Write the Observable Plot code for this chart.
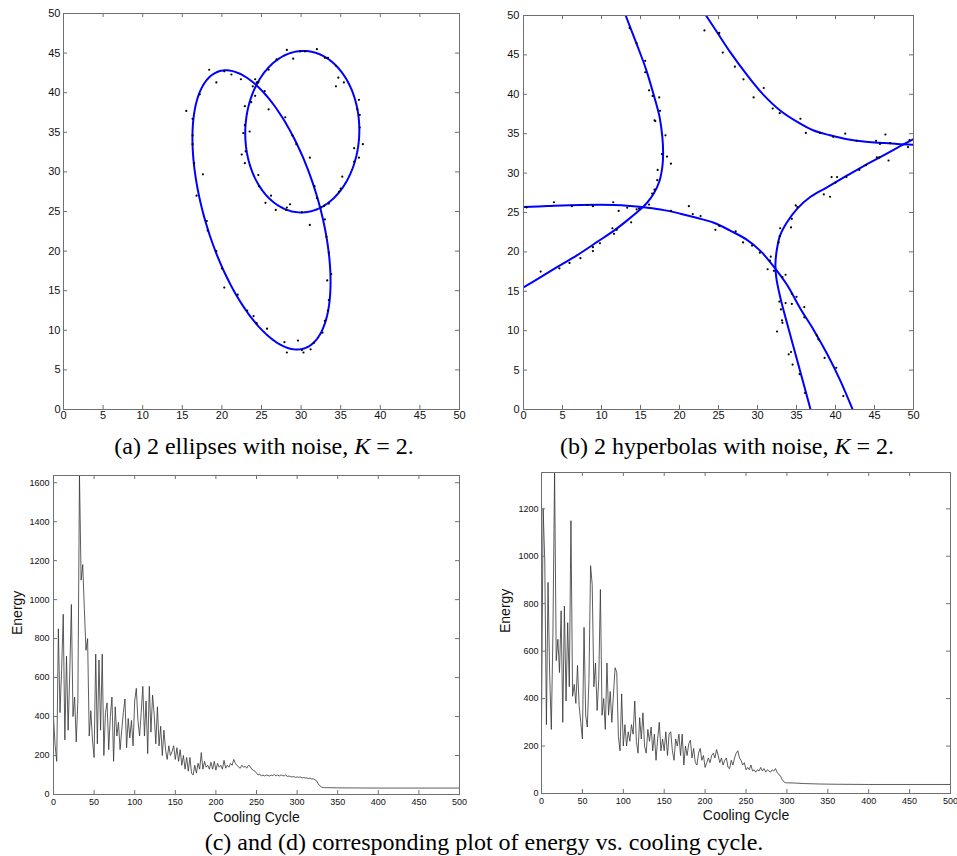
<!DOCTYPE html>
<html><head><meta charset="utf-8">
<script src="https://cdn.jsdelivr.net/npm/d3@7"></script>
<script src="https://cdn.jsdelivr.net/npm/@observablehq/plot@0.6"></script>
<style>
body{margin:0;background:#fff;}
#root{position:relative;width:957px;height:856px;overflow:hidden;background:#fff;}
.cap{position:absolute;font-family:"Liberation Serif","Times New Roman",serif;font-size:24px;line-height:24px;color:#000;white-space:nowrap;transform:translateX(-50%);}
</style></head><body><div id="root"></div>
<script>
// ---------- data ----------
const gridTicks = [0,5,10,15,20,25,30,35,40,45,50];
const cycleTicks = [0,50,100,150,200,250,300,350,400,450,500];
const energyTicksC = [0,200,400,600,800,1000,1200,1400,1600];
const energyTicksD = [0,200,400,600,800,1000,1200];

// (a) fitted ellipses: centre x, centre y, semi-major, semi-minor, angle (deg)
const ellipseCx = [25.0, 30.15];
const ellipseCy = [25.2, 35.08];
const ellipseA = [18.3, 10.2];
const ellipseB = [7.2, 7.2];
const ellipseAngle = [107, 88.4];

// (a) noisy sample points
const ellipseNoise = [[15.5,37.7],[16.3,36.7],[16.3,34.6],[16.3,33.5],[16.5,31.1],[17.6,29.7],[16.8,27.0],[18.1,23.8],[18.2,22.6],[19.3,20.0],[20.0,17.8],[20.3,15.4],[22.0,14.5],[23.2,12.5],[24.0,11.8],[24.4,10.9],[25.7,10.2],[27.9,8.5],[28.2,7.2],[29.6,8.7],[30.1,7.5],[30.3,7.2],[31.2,7.6],[31.6,8.4],[32.7,9.7],[33.0,11.2],[33.4,12.5],[33.5,13.8],[33.3,16.3],[33.8,17.1],[33.5,19.8],[33.2,21.8],[33.0,24.0],[32.5,25.5],[33.5,26.0],[31.1,23.3],[32.0,26.7],[31.7,28.2],[31.1,31.8],[29.4,33.5],[28.9,34.6],[28.0,36.9],[25.9,37.9],[25.4,40.2],[24.4,41.3],[24.2,41.7],[23.9,40.8],[24.2,39.6],[22.4,41.7],[21.2,42.3],[20.3,42.7],[18.4,42.9],[19.3,41.3],[17.2,39.8],[22.9,38.3],[23.7,38.8],[22.7,34.9],[23.5,35.1],[22.9,35.9],[23.0,32.6],[22.5,32.2],[22.9,31.1],[24.6,29.6],[24.7,28.2],[26.2,27.0],[25.5,26.1],[26.8,25.2],[28.2,25.5],[28.6,25.9],[28.1,25.2],[30.1,24.9],[32.9,25.7],[34.8,27.5],[35.0,27.9],[35.2,29.4],[36.7,31.3],[37.3,31.8],[36.7,33.0],[37.8,33.5],[37.4,35.6],[37.4,37.2],[37.1,37.9],[37.3,39.1],[35.4,41.3],[34.4,40.8],[34.7,41.9],[34.4,43.4],[33.4,44.4],[33.0,44.4],[32.0,45.5],[30.5,45.2],[29.9,45.2],[29.0,44.3],[28.2,45.4],[26.9,44.2],[25.9,42.9],[24.6,41.3]];

// (b) fitted hyperbola branches
const branch1 = [[13.1,50],[14.5,46.4],[15.7,43.2],[16.7,39.9],[17.45,37.1],[17.8,34.6],[17.9,32.5],[17.8,30.8],[17.4,28.9],[16.7,27.4],[15.9,26.3],[15.0,25.4],[13.3,24.0],[11.6,22.7],[9.5,21.3],[6.9,19.6],[4.35,18.1],[2.2,16.8],[0,15.5]];
const branch2 = [[0,25.7],[3.1,25.82],[7.3,25.95],[11.6,25.95],[13.7,25.82],[15.9,25.6],[18.0,25.3],[20.1,24.85],[22.3,24.3],[24.4,23.7],[26.5,22.7],[28.7,21.5],[30.4,20.1],[32.1,18.1],[33.8,15.8],[35.5,12.8],[37.2,10.1],[38.9,7.1],[40.6,3.7],[42.2,0]];
const branch3 = [[23.4,50],[24.8,47.9],[26.5,45.35],[28.7,42.4],[30.8,39.9],[32.9,37.95],[35.1,36.5],[37.2,35.4],[39.3,34.8],[41.5,34.3],[43.6,34.0],[45.7,33.85],[47.9,33.7],[50,33.6]];
const branch4 = [[36.8,0],[35.9,3.3],[34.85,7.1],[33.8,10.9],[32.9,14.3],[32.4,16.8],[32.3,18.5],[32.5,20.4],[32.9,22.1],[33.8,23.8],[35.1,25.5],[36.8,27.0],[38.9,28.2],[41.5,29.7],[43.6,30.9],[45.7,32.0],[47.9,33.2],[50,34.3]];

// (b) noisy sample points
const hyperNoise = [[13.6,48.4],[14.5,46.5],[15.6,44.25],[15.6,42.8],[16.1,40.5],[16.55,39.8],[17.4,39.6],[17.5,37.9],[16.8,36.7],[16.9,36.6],[18.2,34.8],[17.75,32.4],[18.4,32.1],[18.9,31.2],[17.2,30.4],[17.15,29.1],[16.8,27.9],[16.5,27.4],[16.1,26.0],[14.8,25.5],[14.5,25.4],[13.3,25.6],[13.8,23.75],[12.2,25.2],[11.5,26.3],[11.4,23.0],[11.95,22.8],[11.6,22.3],[9.8,21.1],[8.9,20.6],[8.9,20.1],[7.3,19.2],[5.9,18.6],[4.6,17.9],[2.2,17.5],[3.9,26.3],[6.2,25.8],[8.2,25.95],[8.9,25.8],[0.4,25.65],[18.9,25.2],[21.2,25.8],[21.7,24.8],[22.7,24.55],[24.6,22.8],[25.1,23.3],[27.2,22.6],[28.15,21.2],[29.3,20.8],[30.3,19.9],[31.3,17.8],[31.7,19.4],[31.6,18.9],[32.1,17.6],[32.7,21.2],[32.85,22.0],[32.9,23.0],[34.3,23.1],[34.4,24.2],[34.9,25.9],[35.1,25.7],[33.2,16.8],[33.6,17.1],[32.8,13.7],[33.0,12.7],[33.15,11.3],[33.2,11.0],[33.6,13.5],[34.4,13.4],[34.4,14.7],[35.0,14.3],[36.0,13.0],[36.0,11.7],[32.5,9.9],[34.0,7.0],[34.3,7.3],[34.5,5.7],[35.4,4.5],[36.1,2.1],[37.6,9.4],[37.8,8.9],[38.6,6.55],[40.1,5.3],[41.0,1.7],[38.5,27.3],[39.3,27.0],[39.5,29.5],[40.2,29.5],[40.0,28.8],[41.4,29.5],[43.05,30.4],[43.9,31.0],[45.3,32.0],[45.6,32.0],[46.8,31.6],[45.7,33.7],[45.2,34.1],[47.0,33.8],[46.4,34.9],[49.3,33.3],[49.5,34.2],[42.7,34.1],[41.25,35.0],[39.7,34.6],[38.0,35.1],[36.2,35.1],[35.5,36.9],[32.85,37.6],[31.95,38.2],[30.8,40.8],[29.5,39.6],[28.2,41.9],[27.1,43.5],[25.55,45.3],[25.0,47.7],[25.1,47.8],[23.2,48.1]];

// (c) energy, one value every 2 cooling cycles from 0 to 340, then the flat tail
const energyStep = 2;
const energyC = [
 400,250,170,850,420,640,925,280,710,330,
 620,975,400,500,270,480,1640,1100,1180,950,
 740,800,300,430,280,190,720,260,690,330,
 720,200,420,470,230,400,500,170,450,300,
 370,230,330,420,490,240,390,290,380,250,
 480,545,380,300,420,555,300,480,210,555,
 320,510,410,260,450,250,350,200,330,230,
 180,250,200,220,250,180,240,170,230,150,
 200,130,190,120,190,110,100,150,110,160,
 130,215,130,170,140,150,130,165,130,170,
 125,160,140,150,130,175,135,150,140,160,
 150,180,160,150,140,135,150,140,145,135,
 150,145,130,125,120,110,100,105,95,100,
 95,100,98,95,100,97,103,95,100,95,
 100,98,95,100,92,95,92,90,92,88,
 90,88,90,85,87,85,85,82,84,80,
 80,75,70,55,45,38,36,35,35,35,
 35];
const energyCTailCycle = [350,400,450,500];
const energyCTail = [34,33,33,33];

// (d) energy, one value every 2 cooling cycles from 0 to 300, then the flat tail
const energyD = [
 280,1200,980,290,890,500,270,680,1360,560,
 650,510,770,300,790,390,720,450,1150,410,
 460,380,540,370,300,230,700,330,280,480,
 960,880,450,550,350,480,860,330,400,270,
 550,330,430,300,420,530,510,240,180,420,
 200,290,200,260,220,290,250,390,220,170,
 320,230,340,200,170,270,220,280,180,250,
 140,230,300,180,230,180,260,160,250,260,
 180,140,230,200,250,160,250,120,200,160,
 210,225,150,190,130,120,170,190,140,160,
 110,130,150,130,160,170,150,185,160,130,
 150,120,140,150,110,105,140,120,150,170,
 180,150,140,120,130,100,110,100,120,95,
 100,90,100,95,110,95,105,90,100,95,
 90,100,95,105,90,80,75,60,50,46,
 45];
const energyDTailCycle = [310,320,340,360,400,500];
const energyDTail = [44,42,40,39,38,38];

// ---------- drawing ----------
const root = document.getElementById("root");
const sans = "'Liberation Sans', Arial, sans-serif";
const gray = "#707070";

function ellipseCurve(i) {
  const th = ellipseAngle[i] * Math.PI / 180;
  return d3.range(0, 362, 2).map(deg => {
    const t = deg * Math.PI / 180;
    const u = ellipseA[i] * Math.cos(t), v = ellipseB[i] * Math.sin(t);
    return [ellipseCx[i] + u * Math.cos(th) - v * Math.sin(th),
            ellipseCy[i] + u * Math.sin(th) + v * Math.cos(th)];
  });
}

function energySeries(vals, tailX, tailY) {
  return vals.map((v, i) => [i * energyStep, v]).concat(tailX.map((x, i) => [x, tailY[i]]));
}

function panel(o) {
  const fw = o.width - o.ml - o.mr, fh = o.height - o.mt - o.mb, tl = 4;
  const svg = Plot.plot({
    width: o.width, height: o.height,
    marginLeft: o.ml, marginRight: o.mr, marginTop: o.mt, marginBottom: o.mb,
    x: {domain: o.xDomain}, y: {domain: o.yDomain},
    style: {fontFamily: sans, fontSize: o.fontSize + "px", color: "#111", background: "transparent", overflow: "visible"},
    marks: [
      ...o.marks,
      Plot.ruleX(o.xTicks, {stroke: gray, insetTop: fh - tl}),
      Plot.ruleX(o.xTicks, {stroke: gray, insetBottom: fh - tl}),
      Plot.ruleY(o.yTicks, {stroke: gray, insetRight: fw - tl}),
      Plot.ruleY(o.yTicks, {stroke: gray, insetLeft: fw - tl}),
      Plot.frame({stroke: gray}),
      Plot.axisX(o.xTicks, {tickSize: 0, tickPadding: o.padX, label: null, tickFormat: d => String(d), fontSize: o.fontSize}),
      Plot.axisY(o.yTicks, {tickSize: 0, tickPadding: o.padY, label: null, tickFormat: d => String(d), fontSize: o.fontSize}),
      ...(o.extra || [])
    ]
  });
  svg.style.position = "absolute";
  svg.style.left = o.left + "px";
  svg.style.top = o.top + "px";
  root.appendChild(svg);
}

const blue = "#0000ff";
const xy = {x: d => d[0], y: d => d[1]};

// (a)
panel({
  left: 0, top: 0, width: 480, height: 440, ml: 63, mr: 21, mt: 13, mb: 31,
  xDomain: [0, 50], yDomain: [0, 50], xTicks: gridTicks, yTicks: gridTicks,
  fontSize: 11, padX: 2, padY: 3,
  marks: [
    Plot.line(ellipseCurve(0), {...xy, stroke: blue, strokeWidth: 2, clip: true}),
    Plot.line(ellipseCurve(1), {...xy, stroke: blue, strokeWidth: 2, clip: true}),
    Plot.dot(ellipseNoise, {...xy, r: 1.1, fill: "#000", stroke: "none"})
  ]
});

// (b)
panel({
  left: 480, top: 0, width: 477, height: 440, ml: 43, mr: 44, mt: 15, mb: 31,
  xDomain: [0, 50], yDomain: [0, 50], xTicks: gridTicks, yTicks: gridTicks,
  fontSize: 11, padX: 2, padY: 4,
  marks: [
    ...[branch1, branch2, branch3, branch4].map(b =>
      Plot.line(b, {...xy, stroke: blue, strokeWidth: 2, curve: "catmull-rom", clip: true})),
    Plot.dot(hyperNoise, {...xy, r: 1.1, fill: "#000", stroke: "none"})
  ]
});

// (c)
panel({
  left: 0, top: 460, width: 480, height: 370, ml: 53, mr: 21, mt: 15, mb: 36,
  xDomain: [0, 500], yDomain: [0, 1637], xTicks: cycleTicks, yTicks: energyTicksC,
  fontSize: 9, padX: 4, padY: 4,
  marks: [
    Plot.line(energySeries(energyC, energyCTailCycle, energyCTail), {...xy, stroke: "#333", strokeWidth: 0.8, clip: true})
  ],
  extra: [
    Plot.text(["Cooling Cycle"], {text: d => d, frameAnchor: "bottom", lineAnchor: "top", dy: 18, fontSize: 14}),
    Plot.text(["Energy"], {text: d => d, frameAnchor: "left", rotate: -90, dx: -36, fontSize: 14})
  ]
});

// (d)
panel({
  left: 480, top: 460, width: 477, height: 370, ml: 61, mr: 7, mt: 12, mb: 37,
  xDomain: [0, 500], yDomain: [0, 1353], xTicks: cycleTicks, yTicks: energyTicksD,
  fontSize: 9, padX: 4, padY: 3,
  marks: [
    Plot.line(energySeries(energyD, energyDTailCycle, energyDTail), {...xy, stroke: "#333", strokeWidth: 0.8, clip: true})
  ],
  extra: [
    Plot.text(["Cooling Cycle"], {text: d => d, frameAnchor: "bottom", lineAnchor: "top", dy: 17, fontSize: 14}),
    Plot.text(["Energy"], {text: d => d, frameAnchor: "left", rotate: -90, dx: -35.5, fontSize: 14})
  ]
});

// captions
const captions = [
  {x: 264, y: 434, html: "(a) 2 ellipses with noise, <i>K</i> = 2."},
  {x: 727, y: 434, html: "(b) 2 hyperbolas with noise, <i>K</i> = 2."},
  {x: 484, y: 830, html: "(c) and (d) corresponding plot of energy vs. cooling cycle."}
];
for (const c of captions) {
  const d = document.createElement("div");
  d.className = "cap";
  d.style.left = c.x + "px";
  d.style.top = c.y + "px";
  d.innerHTML = c.html;
  root.appendChild(d);
}
</script></body></html>
